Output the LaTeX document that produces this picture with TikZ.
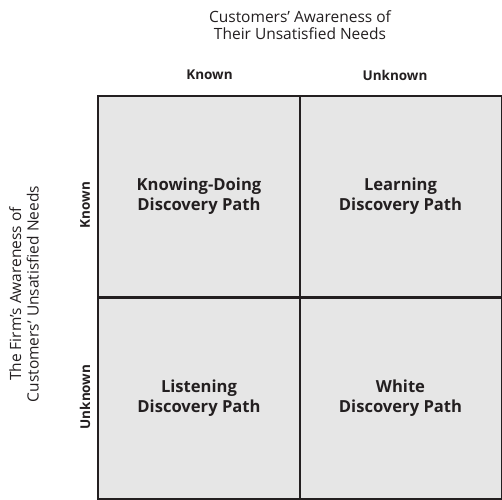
\documentclass[tikz,border=0pt]{standalone}
\usepackage{fontspec}
\setmainfont{Open Sans}
\usetikzlibrary{positioning}
\definecolor{inkgray}{HTML}{231F20}
\definecolor{cellgray}{HTML}{E6E6E6}
\tikzstyle{cell}=[draw=inkgray,fill=cellgray,line width=2pt,minimum width=202pt,
minimum height=201pt,align=center,text=inkgray,
font=\fontsize{16.6}{20}\selectfont\bfseries]
\tikzstyle{head}=[text=inkgray,font=\fontsize{13.5}{16}\selectfont\bfseries]
\tikzstyle{axis}=[text=inkgray,align=center,font=\fontsize{15.5}{17.5}\selectfont]

\begin{document}
\begin{tikzpicture}[x=1pt, y=-1pt, node distance=201.5pt, on grid]
  \useasboundingbox (0,0) rectangle (502,499);

  \node[cell] at (199,196.5) (kd) {Knowing-Doing\\Discovery Path};
  \node[cell, right=of kd] (lr) {Learning\\Discovery Path};
  \node[cell, below=of kd] (ls) {Listening\\Discovery Path};
  \node[cell, right=of ls] (wh) {White\\Discovery Path};

  \node[head] at (209.5,75) (ck) {Known};
  \node[head] at (395,75) (cu) {Unknown};
  \node[head, rotate=90] at (85,205) (rk) {Known};
  \node[head, rotate=90] at (85,397) (ru) {Unknown};

  \node[axis] at (300,25) (top) {Customers' Awareness of\\Their Unsatisfied Needs};
  \node[axis, rotate=90] at (24,294) (side) {The Firm's Awareness of\\Customers' Unsatisfied Needs};
\end{tikzpicture}
\end{document}
